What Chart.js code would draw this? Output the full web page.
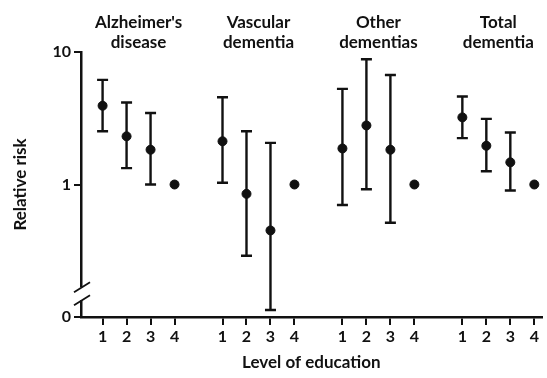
<!DOCTYPE html>
<html>
<head>
<meta charset="utf-8">
<script src="https://cdn.jsdelivr.net/npm/chart.js@4/dist/chart.umd.min.js"></script>
<style>
  html, body { margin: 0; padding: 0; background: #fff; }
  canvas { display: block; }
</style>
</head>
<body>
<canvas id="chart" width="547" height="378"></canvas>
<script>
// data (relative risk by level of education)
const groups = [["Alzheimer's", "disease"], ["Vascular", "dementia"], ["Other", "dementias"], ["Total", "dementia"]]
const levels = ["1", "2", "3", "4"]
const relRisk = [
  [3.93, 2.31, 1.83, 1],
  [2.12, 0.85, 0.45, 1],
  [1.87, 2.79, 1.83, 1],
  [3.21, 1.96, 1.47, 1]
]
const ciLower = [
  [2.52, 1.33, 1.0, null],
  [1.03, 0.29, 0.113, null],
  [0.70, 0.92, 0.515, null],
  [2.24, 1.26, 0.90, null]
]
const ciUpper = [
  [6.16, 4.16, 3.46, null],
  [4.56, 2.52, 2.06, null],
  [5.27, 8.81, 6.71, null],
  [4.61, 3.13, 2.47, null]
]
const yTicks = [0.1, 1, 10]
const yTickLabels = ["0", "1", "10"]

const INK = "#111"
const FONT = "Lato, 'Open Sans', sans-serif"

// x slot for each group/level, with a gap between groups
const slot = (g, l) => g * 5 + l + 1
const xTicks = []
const points = []
groups.forEach((_, g) => {
  levels.forEach((lab, l) => {
    xTicks.push(slot(g, l))
    points.push({ x: slot(g, l), y: relRisk[g][l], lo: ciLower[g][l], hi: ciUpper[g][l], lab })
  })
})

// error bars + group titles + axis break
const extras = {
  id: "extras",
  beforeDatasetsDraw(chart) {
    const { ctx, scales: { x, y } } = chart
    ctx.save()
    ctx.strokeStyle = INK
    ctx.lineWidth = 2.4
    points.forEach(p => {
      if (p.lo == null) return
      const px = x.getPixelForValue(p.x)
      const top = y.getPixelForValue(p.hi)
      const bot = y.getPixelForValue(p.lo)
      ctx.beginPath()
      ctx.moveTo(px, top); ctx.lineTo(px, bot)
      ctx.moveTo(px - 5.5, top); ctx.lineTo(px + 5.5, top)
      ctx.moveTo(px - 5.5, bot); ctx.lineTo(px + 5.5, bot)
      ctx.stroke()
    })
    ctx.restore()
  },
  afterDraw(chart) {
    const { ctx, scales: { x, y } } = chart
    ctx.save()
    ctx.fillStyle = INK
    ctx.font = "bold 17px " + FONT
    ctx.textAlign = "center"
    ctx.textBaseline = "alphabetic"
    groups.forEach((t, g) => {
      const cx = x.getPixelForValue(slot(g, 1.5))
      ctx.fillText(t[0], cx, 28)
      ctx.fillText(t[1], cx, 48)
    })
    // broken axis
    const ax = x.left
    const y1 = y.getPixelForValue(0.168)
    const y2 = y.getPixelForValue(0.134)
    ctx.fillStyle = "#fff"
    ctx.fillRect(ax - 3, y1, 6, y2 - y1)
    ctx.strokeStyle = INK
    ctx.lineWidth = 1.8
    ctx.beginPath()
    ctx.moveTo(ax - 7, y1 + 5); ctx.lineTo(ax + 9, y1 - 5)
    ctx.moveTo(ax - 7, y2 + 5); ctx.lineTo(ax + 9, y2 - 5)
    ctx.stroke()
    ctx.restore()
  }
}

new Chart(document.getElementById("chart"), {
  type: "scatter",
  data: {
    datasets: [{
      data: points,
      backgroundColor: INK,
      borderColor: INK,
      pointRadius: 4.5,
      pointHoverRadius: 4.5
    }]
  },
  plugins: [extras],
  options: {
    responsive: false,
    animation: false,
    layout: { padding: { top: 52, right: 1, left: 0, bottom: 0 } },
    plugins: { legend: { display: false }, tooltip: { enabled: false } },
    scales: {
      x: {
        type: "linear",
        min: 0.1,
        max: 19.3,
        afterBuildTicks: s => { s.ticks = xTicks.map(v => ({ value: v })) },
        afterFit: s => { s.height = 61 },
        ticks: {
          autoSkip: false,
          maxRotation: 0,
          padding: 2,
          color: INK,
          font: { family: FONT, size: 16, weight: "bold" },
          callback: v => levels[(v - 1) % 5]
        },
        grid: { drawOnChartArea: false, drawTicks: true, tickLength: 8, color: INK, lineWidth: 2 },
        border: { display: true, color: INK, width: 2.5 },
        title: {
          display: true,
          text: "Level of education",
          color: INK,
          font: { family: FONT, size: 17, weight: "bold" },
          padding: { top: 2, bottom: 5 }
        }
      },
      y: {
        type: "logarithmic",
        min: 0.1,
        max: 10,
        afterBuildTicks: s => { s.ticks = yTicks.map(v => ({ value: v })) },
        afterFit: s => { s.width = 81 },
        ticks: {
          padding: 3,
          color: INK,
          font: { family: FONT, size: 16, weight: "bold" },
          callback: v => yTickLabels[yTicks.indexOf(v)]
        },
        grid: { drawOnChartArea: false, drawTicks: true, tickLength: 7, color: INK, lineWidth: 2 },
        border: { display: true, color: INK, width: 2.5 },
        title: {
          display: true,
          text: "Relative risk",
          color: INK,
          font: { family: FONT, size: 17, weight: "bold" },
          padding: { top: 10, bottom: 0 }
        }
      }
    }
  }
})
</script>
</body>
</html>
